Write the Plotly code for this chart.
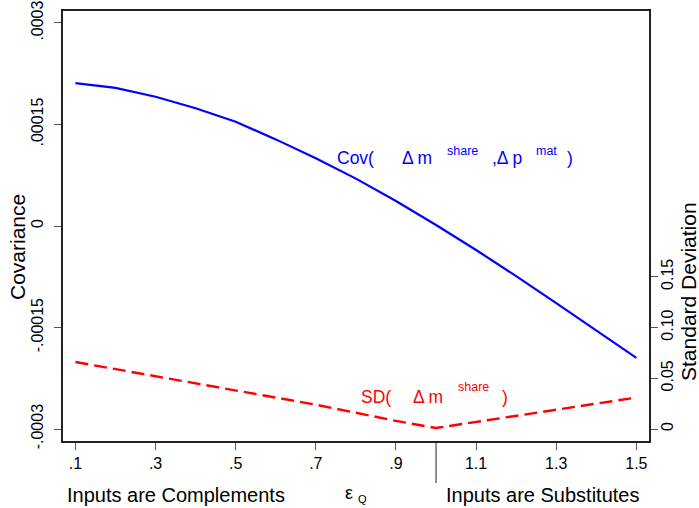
import plotly.graph_objects as go

# ---- data ----
eps = [0.1, 0.2, 0.3, 0.4, 0.5, 0.6, 0.7, 0.8, 0.9, 1.0, 1.1, 1.2, 1.3, 1.4, 1.5]
cov = [0.000211, 0.000204, 0.000191, 0.000174, 0.000154, 0.000128, 0.000100,
       0.000070, 0.000037, 0.0000015, -0.0000355, -0.000074, -0.000114,
       -0.000154, -0.000195]
sd = [0.066, 0.059, 0.052, 0.045, 0.038, 0.031, 0.024, 0.016, 0.008, 0.001,
      0.007, 0.013, 0.019, 0.025, 0.031]

x_tickvals = [0.1, 0.3, 0.5, 0.7, 0.9, 1.1, 1.3, 1.5]
x_ticktext = [".1", ".3", ".5", ".7", ".9", "1.1", "1.3", "1.5"]
y_tickvals = [-0.0003, -0.00015, 0, 0.00015, 0.0003]
y_ticktext = ["-.0003", "-.00015", "0", ".00015", ".0003"]
y2_tickvals = [0, 0.05, 0.10, 0.15]
y2_ticktext = ["0", "0.05", "0.10", "0.15"]
boundary = 1.0

# ---- layout geometry (pixels) ----
W, H = 699, 508
L, R, T, B = 63, 649, 11, 441
PW, PH = R - L, B - T


def px(p):
    return (p - L) / PW


def py(p):
    return (B - p) / PH


FONT = "Arial, Liberation Sans, sans-serif"
BLUE = "#0000ff"
RED = "#ff0000"

fig = go.Figure()
fig.add_trace(go.Scatter(x=eps, y=cov, mode="lines",
                         line=dict(color=BLUE, width=2.2), yaxis="y",
                         showlegend=False))
fig.add_trace(go.Scatter(x=eps, y=sd, mode="lines",
                         line=dict(color=RED, width=2.4, dash="13px,6px"),
                         yaxis="y2", showlegend=False))

ann = []


def txt(text, xp, yp, size, color="black", xanchor="left", angle=0):
    ann.append(dict(text=text, x=px(xp), y=py(yp), xref="paper", yref="paper",
                    xanchor=xanchor, yanchor="middle", showarrow=False,
                    textangle=angle, borderpad=0,
                    font=dict(family=FONT, size=size, color=color)))


# Cov label
txt("Cov(", 336, 158, 17.5, BLUE)
txt("\u0394 m", 401, 158, 17.5, BLUE)
txt("share", 446, 151, 12.5, BLUE)
txt(",\u0394 p", 491, 158, 17.5, BLUE)
txt("mat", 535, 151, 12.5, BLUE)
txt(")", 566, 158, 17.5, BLUE)
# SD label
txt("SD(", 360, 397, 17.5, RED)
txt("\u0394 m", 412, 397, 17.5, RED)
txt("share", 457, 387, 12.5, RED)
txt(")", 501, 397, 17.5, RED)
# axis titles
txt("Covariance", 17, 247, 21, xanchor="center", angle=-90)
txt("Standard Deviation", 688, 292, 21, xanchor="center", angle=-90)
# bottom texts
txt("Inputs are Complements", 176, 495, 20, xanchor="center")
txt("Inputs are Substitutes", 542, 495, 20, xanchor="center")
txt("\u03b5", 349, 493, 18, xanchor="center")
txt("Q", 362, 499, 11, xanchor="center")

fig.add_shape(type="line", xref="x", yref="paper", x0=boundary, x1=boundary,
              y0=0, y1=py(483), line=dict(color="#222", width=1))

axis_common = dict(showgrid=False, zeroline=False, showline=True,
                   linecolor="#222", linewidth=1.5, ticks="outside",
                   ticklen=7, tickcolor="#555", tickwidth=1.2, automargin=False,
                   tickfont=dict(family=FONT, size=16, color="black"))

fig.update_layout(
    width=W, height=H,
    margin=dict(l=L, r=W - R, t=T, b=H - B, pad=0, autoexpand=False),
    paper_bgcolor="white", plot_bgcolor="white",
    xaxis=dict(range=[0.069, 1.5315], tickvals=x_tickvals,
               ticktext=x_ticktext, mirror=True, **axis_common),
    yaxis=dict(range=[-0.0003177, 0.0003177], tickvals=y_tickvals,
               ticktext=y_ticktext, tickangle=-90, ticklabelstandoff=5,
               **axis_common),
    yaxis2=dict(range=[-0.0118, 0.4118], tickvals=y2_tickvals,
                ticktext=y2_ticktext, tickangle=-90, overlaying="y",
                side="right", ticklabelstandoff=-4, **axis_common),
    annotations=ann,
)

fig.write_html("out.html", config={"displayModeBar": False},
               post_script="document.body.style.margin='0';"
                           "document.body.style.padding='0';")
